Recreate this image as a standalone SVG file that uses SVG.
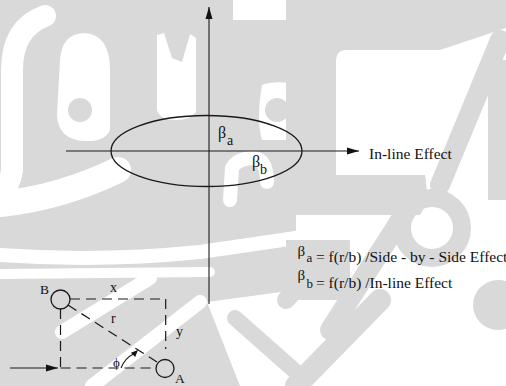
<svg xmlns="http://www.w3.org/2000/svg" width="506" height="386" viewBox="0 0 506 386">
<style>
.wm{fill:#d9d9d9}
.wh{fill:#ffffff}
.ws{stroke:#ffffff;fill:none;stroke-linecap:round;stroke-linejoin:round}
.gs{stroke:#d9d9d9;fill:none;stroke-linecap:round;stroke-linejoin:round}
.ln{stroke:#1a1a1a;stroke-width:1.1;fill:none}
.ds{stroke:#1a1a1a;stroke-width:1.2;fill:none;stroke-dasharray:10 6}
.tx{font-family:"Liberation Serif","Times New Roman",serif;fill:#111}
</style>
<defs>
<marker id="ah" markerUnits="userSpaceOnUse" markerWidth="12" markerHeight="8" refX="12" refY="4" orient="auto"><path d="M0,0.5 L12,4 L0,7.5 Z" fill="#111"/></marker>
</defs>
<g id="watermark">
<rect width="506" height="386" fill="#ffffff"/>
<rect class="wm" x="0" y="0" width="296" height="386"/>
<path class="ws" stroke-width="22" d="M45,16 Q12,28 12,70 L12,170 Q10,186 0,194"/>
<path class="wh" d="M60,60 Q62,33 85,33 Q110,35 110,70 L110,130 Q105,142 85,141 Q58,140 57,115 Z"/>
<circle class="wm" cx="80" cy="110" r="12"/>
<path class="wh" d="M157,35 L164,33 L172,58 L182,62 L190,34 L196,38 L196,112 Q188,121 175,120 Q160,120 157,110 Z"/>
<rect class="wh" x="233" y="0" width="63" height="20"/>
<path class="wh" d="M262,85 Q275,80 296,84 V140 H262 Q256,120 262,85 Z"/>
<circle class="wm" cx="277" cy="110" r="12"/>
<path class="ws" stroke-width="14" d="M230,200 L232,168 Q238,158 254,158 Q267,160 267,182"/>
<path class="ws" stroke-width="26" d="M0,204 Q60,198 118,170"/>
<path class="ws" stroke-width="14" d="M0,255 Q100,262 200,252 L296,238"/>
<path class="ws" stroke-width="10" d="M0,274 L210,272"/>
<path class="ws" stroke-width="14" d="M62,332 L150,278"/>
<path class="ws" stroke-width="14" d="M92,386 L200,302"/>
<polygon class="wh" points="207,302 296,290 296,386 240,386"/>
<path class="gs" stroke-width="16" d="M235,318 L296,372"/>
<path class="wm" d="M286,0 H506 V28 L440,50 H346 Q336,50 336,62 V190 H286 Z"/>
<path class="gs" stroke-width="20" d="M500,40 L440,185"/>
<rect class="wm" x="488" y="60" width="18" height="140"/>
<path class="wm" d="M286,175 H425 Q430,200 420,215 H286 Z"/>
<circle cx="432" cy="228" r="30" fill="none" stroke="#d9d9d9" stroke-width="18"/>
<path class="gs" stroke-width="20" d="M410,205 L330,330"/>
<rect class="wm" x="286" y="240" width="64" height="60"/>
<path class="gs" stroke-width="22" d="M380,300 L296,386"/>
<path class="gs" stroke-width="18" d="M330,250 L286,300"/>
<circle class="wm" cx="498" cy="305" r="25"/>
</g>
<g id="connectors">
<line class="ln" x1="209" y1="304" x2="209" y2="7" marker-end="url(#ah)"/>
<line class="ln" x1="66" y1="151" x2="359" y2="151" marker-end="url(#ah)"/>
<line class="ds" x1="70" y1="299" x2="165.7" y2="299"/>
<line class="ds" x1="165.7" y1="299" x2="165.7" y2="349"/>
<line class="ds" x1="60.5" y1="309" x2="60.5" y2="368"/>
<line class="ds" x1="60.5" y1="368" x2="156" y2="368"/>
<line class="ds" x1="68" y1="305" x2="157" y2="362"/>
<line class="ln" x1="10" y1="368" x2="58" y2="368" marker-end="url(#ah)"/>
<path class="ln" d="M121,368 Q125,358 133.5,354"/>
<polygon points="138,350 135.2,357.1 130.9,352.8" fill="#111"/>
</g>
<g id="ellipse-node">
<ellipse cx="206.5" cy="151" rx="95.5" ry="35.5" fill="none" stroke="#1a1a1a" stroke-width="1.3"/>
</g>
<g id="node-B">
<circle cx="60.5" cy="299.5" r="9.5" fill="none" stroke="#1a1a1a" stroke-width="1.3"/>
<text class="tx" x="40" y="294" font-size="13.5">B</text>
</g>
<g id="node-A">
<circle cx="165" cy="368.5" r="9" fill="none" stroke="#1a1a1a" stroke-width="1.3"/>
<text class="tx" x="175" y="382.5" font-size="13.5">A</text>
</g>
<g id="labels">
<text class="tx" x="218" y="138" font-size="16">β</text>
<text class="tx" x="227" y="144.5" font-size="14">a</text>
<text class="tx" x="252" y="167" font-size="16">β</text>
<text class="tx" x="260" y="174" font-size="14">b</text>
<text class="tx" x="369" y="159" font-size="15.5">In-line Effect</text>
<text class="tx" x="297.5" y="255.5" font-size="15">β</text>
<text class="tx" x="306.5" y="262" font-size="13">a</text>
<text class="tx" x="316" y="262" font-size="15.5">= f(r/b) /Side - by - Side Effect</text>
<text class="tx" x="297.5" y="279.5" font-size="15">β</text>
<text class="tx" x="306.5" y="288" font-size="13">b</text>
<text class="tx" x="316" y="288" font-size="15.5">= f(r/b) /In-line Effect</text>
<text class="tx" x="110" y="292" font-size="14">x</text>
<text class="tx" x="111" y="323" font-size="14">r</text>
<text class="tx" x="176" y="336" font-size="14">y</text>
<text class="tx" x="113" y="367" font-size="13">ϕ</text>
</g>
</svg>
